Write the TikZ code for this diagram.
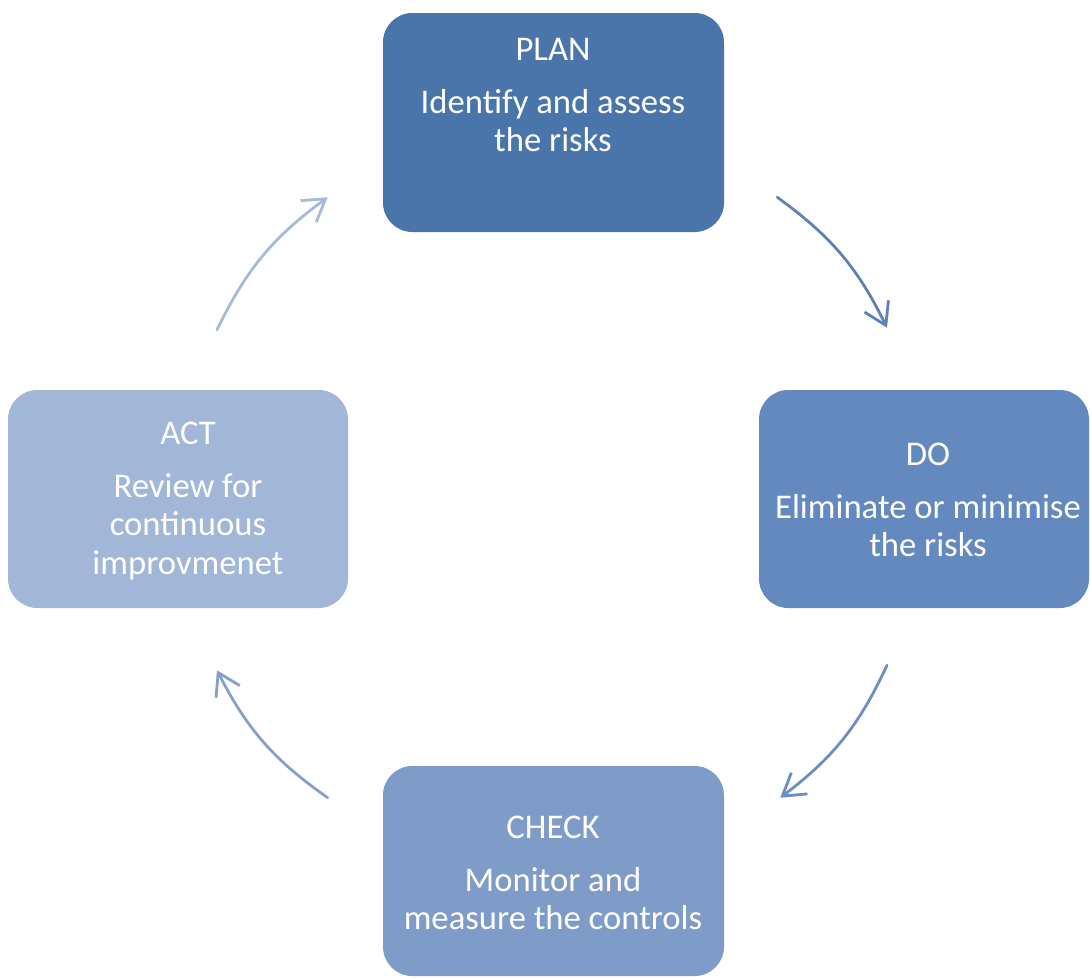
\documentclass[tikz,border=0pt]{standalone}
\usepackage{fontspec}
\setmainfont{Carlito}
\usepackage{tikz}
\usetikzlibrary{arrows.meta}

\definecolor{planblue}{HTML}{4A75AB}
\definecolor{doblue}{HTML}{6389BE}
\definecolor{checkblue}{HTML}{7F9BC8}
\definecolor{actblue}{HTML}{A2B6D7}

\begin{document}
\begin{tikzpicture}[x=0.75pt, y=-0.75pt,
  stagebox/.style={draw=none, rounded corners=22pt, inner sep=0pt},
  stagetext/.style={text=white, align=center, font=\fontsize{26}{28.8}\selectfont},
  cyclearrow/.style={line width=2.1pt, line cap=round,
    -{Straight Barb[length=16pt, width=20pt, line width=2.1pt]}}]

% Page frame
\useasboundingbox (0,0) rectangle (1090,979);

% Four stages of the cycle
\node[stagebox, fill=planblue, minimum width=255.75pt, minimum height=164.25pt] (plan) at (553.5,122.5) {};
\node[stagebox, fill=doblue, minimum width=247.5pt, minimum height=163.5pt] (do) at (924,499) {};
\node[stagebox, fill=checkblue, minimum width=255.75pt, minimum height=157.5pt] (check) at (553.5,871) {};
\node[stagebox, fill=actblue, minimum width=255pt, minimum height=163.5pt] (act) at (178,499) {};

% Labels
\node[stagetext] (plantxt) at (553,95) {PLAN\\[11pt]Identify and assess\\the risks};
\node[stagetext] (dotxt) at (928,500) {DO\\[11pt]Eliminate or minimise\\the risks};
\node[stagetext] (checktxt) at (553,873) {CHECK\\[11pt]Monitor and\\measure the controls};
\node[stagetext] (acttxt) at (188,501) {ACT\\[11pt]Review for\\continuous\\improvmenet};

% Arrows between the stages, clockwise
\draw[cyclearrow, draw=planblue!90!white] ([shift={(53,-35)}]plan.south east)
  to[bend left=14] ([shift={(-37,-62)}]do.north);
\draw[cyclearrow, draw=doblue!95!white] ([shift={(-37,57)}]do.south)
  to[bend left=14] ([shift={(56,32)}]check.north east);
\draw[cyclearrow, draw=checkblue!95!white] ([shift={(-55,32)}]check.north west)
  to[bend left=14] ([shift={(39,62)}]act.south);
\draw[cyclearrow, draw=actblue!95!white] ([shift={(39,-60)}]act.north)
  to[bend left=14] ([shift={(-55,-35)}]plan.south west);

\end{tikzpicture}
\end{document}
